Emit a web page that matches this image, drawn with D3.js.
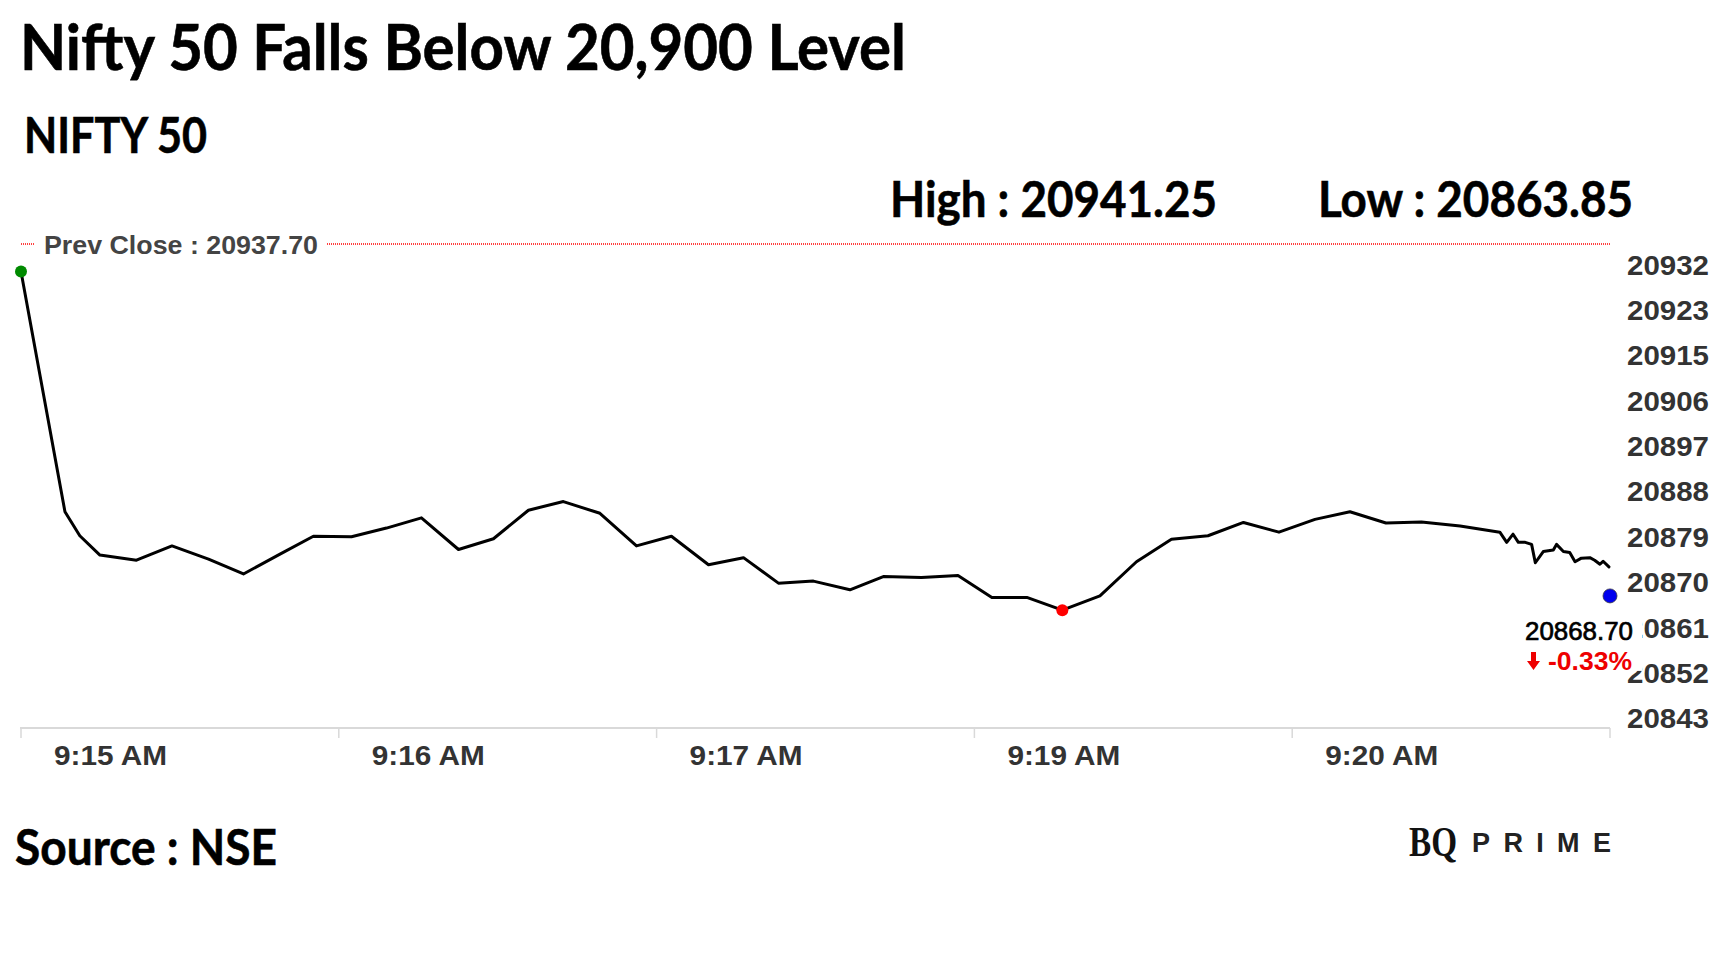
<!DOCTYPE html>
<html>
<head>
<meta charset="utf-8">
<script src="https://cdnjs.cloudflare.com/ajax/libs/d3/7.8.5/d3.min.js"></script>
<style>
  body { margin: 0; background: #fff; }
</style>
</head>
<body>
<div id="chart"></div>
<script>
// values
var titleText = "Nifty 50 Falls Below 20,900 Level";
var indexName = "NIFTY 50";
var prevClose = 20937.70;
var dayHigh = 20941.25;
var dayLow = 20863.85;
var lastPrice = 20868.70;
var changePct = -0.33;

// seconds after 9:15 and price for each point of the line
var pointSeconds = [0, 8.3, 11.1, 14.9, 21.8, 28.5, 35.4, 42.0, 48.9, 55.2,
  62.4, 69.0, 75.6, 82.6, 89.2, 95.8, 102.4, 109.3, 116.2, 122.8,
  129.8, 136.4, 143.0, 149.6, 156.5, 162.8, 170.0, 176.9, 183.3, 189.9,
  196.6, 203.7, 210.6, 217.2, 224.1, 230.8, 237.5, 244.3, 250.9, 257.7,
  264.4, 271.7, 279.2, 280.5, 281.7, 282.7, 284.0, 285.2, 285.9, 287.4,
  289.3, 289.9, 291.2, 292.4, 293.4, 294.6, 296.2, 297.1, 298.1, 298.7, 299.8];
var pointPrices = [20932.3, 20885.2, 20880.5, 20876.7, 20875.7, 20878.5, 20875.9, 20873.0, 20876.9, 20880.4,
  20880.3, 20882.0, 20884.0, 20877.8, 20879.9, 20885.5, 20887.2, 20884.9, 20878.5, 20880.4,
  20874.8, 20876.2, 20871.2, 20871.6, 20869.9, 20872.5, 20872.3, 20872.7, 20868.4, 20868.4,
  20865.9, 20868.7, 20875.4, 20879.8, 20880.5, 20883.1, 20881.2, 20883.7, 20885.2, 20883.0,
  20883.2, 20882.4, 20881.2, 20879.2, 20880.8, 20879.2, 20879.2, 20878.8, 20875.2, 20877.4,
  20877.7, 20878.8, 20877.4, 20877.2, 20875.4, 20876.1, 20876.2, 20875.7, 20874.9, 20875.5, 20874.4];

var xTickSeconds = [0, 60, 120, 180, 240, 300];
var xTickLabels = ["9:15 AM", "9:16 AM", "9:17 AM", "9:19 AM", "9:20 AM"];
var yTickValues = [20843.3, 20852.2, 20861.1, 20870.0, 20878.9, 20887.8,
  20896.7, 20905.6, 20914.5, 20923.4, 20932.3];

// dimensions
var width = 1728;
var height = 972;

var svg = d3.select("#chart")
  .append("svg")
    .attr("width", width)
    .attr("height", height)
    .style("display", "block");

var x = d3.scaleLinear().domain([0, 300]).range([21, 1610]);
var y = d3.scaleLinear().domain([20842.8, 20937.7]).range([728, 244]);

var data = pointSeconds.map(function(s, i) { return {t: s, v: pointPrices[i]}; });

var headFont = "Lato, 'Open Sans', sans-serif";
var axisFont = "'Liberation Sans', Arial, sans-serif";

// headings
function heading(txt, tx, ty, size, len) {
  svg.append("text")
    .attr("x", tx).attr("y", ty)
    .attr("font-family", headFont)
    .attr("font-weight", 700)
    .attr("font-size", size)
    .attr("fill", "#000")
    .attr("stroke", "#000")
    .attr("stroke-width", 0.6)
    .attr("textLength", len)
    .attr("lengthAdjust", "spacingAndGlyphs")
    .text(txt);
}
heading(titleText, 20, 70, 64, 886);
heading(indexName, 24, 153, 49, 183);
heading("High : " + dayHigh.toFixed(2), 890, 217, 50, 327);
heading("Low : " + dayLow.toFixed(2), 1318, 217, 50, 315);
heading("Source : NSE", 15, 865, 50, 262);

// x axis
svg.append("line")
  .attr("x1", x(0) - 1).attr("x2", x(300))
  .attr("y1", 728).attr("y2", 728)
  .attr("stroke", "#d9d9d9")
  .attr("stroke-width", 2);

svg.append("g")
  .selectAll("line")
  .data(xTickSeconds)
  .enter().append("line")
    .attr("x1", function(d) { return x(d); })
    .attr("x2", function(d) { return x(d); })
    .attr("y1", 728).attr("y2", 738)
    .attr("stroke", "#d9d9d9")
    .attr("stroke-width", 1.5);

svg.append("g")
  .selectAll("text")
  .data(xTickLabels)
  .enter().append("text")
    .attr("x", function(d, i) { return x(xTickSeconds[i]) + 33; })
    .attr("y", 765)
    .attr("font-family", axisFont)
    .attr("font-weight", "bold")
    .attr("font-size", 28)
    .attr("fill", "#333")
    .attr("textLength", 113)
    .attr("lengthAdjust", "spacingAndGlyphs")
    .text(function(d) { return d; });

// y axis labels on the right
svg.append("g")
  .selectAll("text")
  .data(yTickValues)
  .enter().append("text")
    .attr("x", 1627)
    .attr("y", function(d) { return y(d) + 3; })
    .attr("font-family", axisFont)
    .attr("font-weight", "bold")
    .attr("font-size", 27)
    .attr("fill", "#333")
    .attr("textLength", 82)
    .attr("lengthAdjust", "spacingAndGlyphs")
    .text(function(d) { return d3.format(".0f")(d); });

// previous close line
svg.append("line")
  .attr("x1", x(0)).attr("x2", x(300))
  .attr("y1", y(prevClose)).attr("y2", y(prevClose))
  .attr("stroke", "#ff0000")
  .attr("stroke-width", 1.3)
  .attr("stroke-dasharray", "1,1");

svg.append("rect")
  .attr("x", 35).attr("y", y(prevClose) - 14)
  .attr("width", 291).attr("height", 28)
  .attr("fill", "#fff");

svg.append("text")
  .attr("x", 44)
  .attr("y", y(prevClose) + 10)
  .attr("font-family", axisFont)
  .attr("font-weight", "bold")
  .attr("font-size", 25)
  .attr("fill", "#444")
  .attr("textLength", 274)
  .attr("lengthAdjust", "spacingAndGlyphs")
  .text("Prev Close : " + prevClose.toFixed(2));

// price line
var line = d3.line()
  .x(function(d) { return x(d.t); })
  .y(function(d) { return y(d.v); });

svg.append("path")
  .datum(data)
  .attr("d", line)
  .attr("fill", "none")
  .attr("stroke", "#000")
  .attr("stroke-width", 3)
  .attr("stroke-linejoin", "round")
  .attr("stroke-linecap", "round");

var lowest = d3.least(data, function(d) { return d.v; });

svg.append("circle")
  .attr("cx", x(data[0].t)).attr("cy", y(data[0].v))
  .attr("r", 6)
  .attr("fill", "#008a00");

svg.append("circle")
  .attr("cx", x(lowest.t)).attr("cy", y(lowest.v))
  .attr("r", 6)
  .attr("fill", "#ff0000");

// last price annotation, covers the axis labels behind it
var lx = x(300), ly = y(lastPrice);

svg.append("rect")
  .attr("x", lx - 90).attr("y", ly + 17)
  .attr("width", 122).attr("height", 58)
  .attr("fill", "#fff");

svg.append("circle")
  .attr("cx", lx).attr("cy", ly)
  .attr("r", 7)
  .attr("fill", "#0000ee")
  .attr("stroke", "#334")
  .attr("stroke-width", 0.8);

svg.append("text")
  .attr("x", lx + 23)
  .attr("y", ly + 44)
  .attr("text-anchor", "end")
  .attr("font-family", axisFont)
  .attr("font-size", 26)
  .attr("fill", "#000")
  .attr("stroke", "#000")
  .attr("stroke-width", 0.7)
  .attr("textLength", 108)
  .attr("lengthAdjust", "spacingAndGlyphs")
  .text(lastPrice.toFixed(2));

svg.append("text")
  .attr("x", lx + 22)
  .attr("y", ly + 74)
  .attr("text-anchor", "end")
  .attr("font-family", axisFont)
  .attr("font-weight", "bold")
  .attr("font-size", 26)
  .attr("fill", "#ee0000")
  .attr("textLength", 84)
  .attr("lengthAdjust", "spacingAndGlyphs")
  .text(changePct.toFixed(2) + "%");

// down arrow
var ax = lx - 76.5, ay = ly + 56;
svg.append("path")
  .attr("d", "M" + (ax - 2.5) + "," + ay + "h5v9h4l-6.5,9l-6.5,-9h4z")
  .attr("fill", "#ee0000");

// logo
svg.append("text")
  .attr("x", 1409).attr("y", 856)
  .attr("font-family", "'Liberation Serif', 'DejaVu Serif', serif")
  .attr("font-weight", "bold")
  .attr("font-size", 42)
  .attr("fill", "#111")
  .attr("textLength", 48)
  .attr("lengthAdjust", "spacingAndGlyphs")
  .text("BQ");

svg.append("text")
  .attr("x", 1472).attr("y", 852)
  .attr("font-family", axisFont)
  .attr("font-weight", "bold")
  .attr("font-size", 27)
  .attr("fill", "#222")
  .attr("textLength", 139)
  .attr("lengthAdjust", "spacing")
  .text("PRIME");
</script>
</body>
</html>
